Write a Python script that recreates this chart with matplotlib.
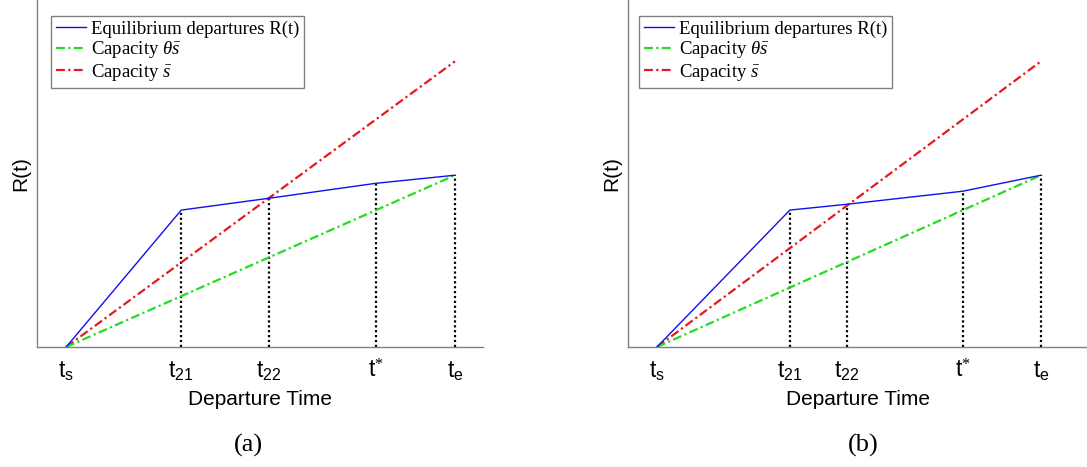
import matplotlib
matplotlib.use("Agg")
import matplotlib.pyplot as plt

plt.rcParams['mathtext.fontset'] = 'custom'
plt.rcParams['mathtext.rm'] = 'Liberation Serif'
plt.rcParams['mathtext.it'] = 'Liberation Serif:italic'
plt.rcParams['mathtext.sf'] = 'Liberation Sans'

# ---- data (normalized: t_s = 0, t_e = 1, R(t_e) = 1) ----
tick_labels = [r'$\mathsf{t}_{\mathsf{s}}$', r'$\mathsf{t}_{\mathsf{21}}$',
               r'$\mathsf{t}_{\mathsf{22}}$', r'$\mathsf{t}^{*}$',
               r'$\mathsf{t}_{\mathsf{e}}$']
a_times = [0.0, 0.296, 0.522, 0.797, 1.0]
a_R = [0.0, 0.797, 0.866, 0.953, 1.0]
b_times = [0.0, 0.346, 0.495, 0.797, 1.0]
b_R = [0.0, 0.797, 0.831, 0.907, 1.0]
cap_theta_end = 1.0   # capacity theta*s_bar at t_e
cap_full_end = 1.663  # capacity s_bar at t_e
captions = ['(a)', '(b)']

fig = plt.figure(figsize=(10.87, 4.67), dpi=100)

W, H = 1087.0, 467.0
axes_px = [(37, 483), (628, 1087)]
bottom_px = 347
xlims = [(-0.075, 1.072), (-0.0755, 1.12)]
ylim_top = 2.02

panels = [(a_times, a_R), (b_times, b_R)]
cap_x = [248, 863]

for k, ((x0, x1), (times, R)) in enumerate(zip(axes_px, panels)):
    ax = fig.add_axes([x0 / W, (H - bottom_px) / H, (x1 - x0) / W, bottom_px / H])
    ax.set_xlim(*xlims[k])
    ax.set_ylim(0, ylim_top)
    for s in ['top', 'right']:
        ax.spines[s].set_visible(False)
    for s in ['left', 'bottom']:
        ax.spines[s].set_color('#808080')
        ax.spines[s].set_linewidth(1.0)
    ax.set_yticks([])
    ax.set_xticks(times)
    ax.set_xticklabels(tick_labels, fontsize=16.5)
    ax.tick_params(axis='x', length=0, pad=9)

    # vertical dotted lines
    for t, r in zip(times[1:], R[1:]):
        ax.plot([t, t], [0, r], color='black', linestyle=(0, (1, 1.2)), linewidth=1.6, zorder=1)

    l1, = ax.plot(times, R, color='#1010ee', linewidth=1.0, zorder=4,
                  label='Equilibrium departures R(t)')
    l2, = ax.plot([times[0], times[-1]], [0, cap_theta_end], color='#22dd22',
                  linestyle=(0, (4, 1.5, 1, 1.5)), linewidth=1.6, zorder=3,
                  label=r'Capacity $\theta\bar{s}$')
    l3, = ax.plot([times[0], times[-1]], [0, cap_full_end], color='#e41a1c',
                  linestyle=(0, (4, 1.5, 1, 1.5)), linewidth=1.6, zorder=2,
                  label=r'Capacity $\bar{s}$')

    leg = ax.legend(handles=[l1, l2, l3], loc='upper left',
                    bbox_to_anchor=((51 if k == 0 else 639) / W, (H - 16) / H),
                    bbox_transform=fig.transFigure,
                    prop={'family': 'Liberation Serif', 'size': 13.5},
                    handlelength=1.6, handletextpad=0.3, labelspacing=0.08,
                    borderpad=0.25, borderaxespad=0, fancybox=False, framealpha=1)
    leg.get_frame().set_edgecolor('#808080')
    leg.get_frame().set_linewidth(1.0)

    ax.set_xlabel('Departure Time', fontsize=15, family='Liberation Sans', labelpad=5)
    ax.set_ylabel('R(t)', fontsize=15, family='Liberation Sans', labelpad=5)

    fig.text(cap_x[k] / W, (H - 445) / H, captions[k], ha='center', va='center',
             fontsize=19, family='Liberation Serif')

fig.savefig('out.png', dpi=100)
